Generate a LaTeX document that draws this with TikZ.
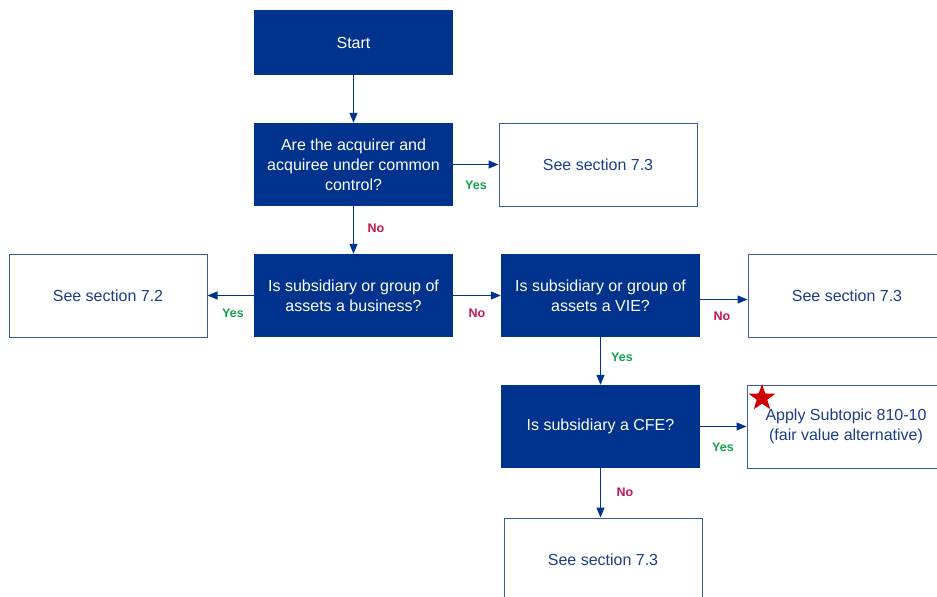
\documentclass[tikz,border=0pt]{standalone}
\usepackage{fontspec}
\setmainfont{Liberation Sans}
\usetikzlibrary{
  arrows.meta,
  shapes.geometric
}
\definecolor{FNavy}{HTML}{00338D}
\definecolor{FEdge}{HTML}{3A5CA6}
\definecolor{FInk}{HTML}{1B3D8F}
\definecolor{FYes}{HTML}{12A24B}
\definecolor{FNo}{HTML}{C8154A}
\definecolor{FStar}{HTML}{D00000}
\tikzset{
  fqbox/.style={
    fill=FNavy,
    text=white,
    align=center,
    minimum width=199pt,
    minimum height=83pt,
    inner sep=4pt,
    font=\fontsize{16}{20}\selectfont
  },
  fsbox/.style={
    draw=FEdge,
    line width=1pt,
    fill=white,
    text=FInk,
    align=center,
    minimum width=198pt,
    minimum height=83pt,
    inner sep=4pt,
    font=\fontsize{16}{20}\selectfont
  },
  farrow/.style={
    -{Triangle[length=10pt,width=8pt]},
    line width=1.2pt,
    color=FNavy
  },
  fyes/.style={
    font=\bfseries\fontsize{12.5}{14}\selectfont,
    text=FYes
  },
  fno/.style={
    font=\bfseries\fontsize{12.5}{14}\selectfont,
    text=FNo
  }
}

\begin{document}
\begin{tikzpicture}[x=1pt,y=-1pt]
  \useasboundingbox (0,0) rectangle (937,597);
  \clip (0,0) rectangle (937,597);

  \node[fqbox,minimum height=65pt] (start) at (353.5,42.5) {Start};
  \node[fqbox] (common) at (353.5,164.5)
    {Are the acquirer and\\acquiree under common\\control?};
  \node[fsbox] (sec73a) at (598,164.5) {See section 7.3};

  \node[fsbox] (sec72) at (108,295.5) {See section 7.2};
  \node[fqbox] (business) at (353.5,295.5)
    {Is subsidiary or group of\\assets a business?};
  \node[fqbox] (vie) at (600.5,295.5)
    {Is subsidiary or group of\\assets a VIE?};
  \node[fsbox] (sec73b) at (847,295.5) {See section 7.3};

  \node[fqbox] (cfe) at (600.5,426.5) {Is subsidiary a CFE?};
  \node[fsbox] (apply) at (846,426.5)
    {Apply Subtopic 810-10\\(fair value alternative)};
  \node[star,star points=5,star point ratio=2.5,fill=FStar,
    minimum size=28pt,inner sep=0pt] (flag) at (762,398) {};

  \node[fsbox] (sec73c) at (603,559.5) {See section 7.3};

  \draw[farrow] (start) -- (common);
  \draw[farrow] (common) -- (sec73a);
  \draw[farrow] (common) -- (business);
  \draw[farrow] (business) -- (sec72);
  \draw[farrow] (business) -- (vie);
  \draw[farrow] (vie.east) ++(0,4) coordinate (vieout) -- (vieout -| sec73b.west);
  \draw[farrow] (vie) -- (cfe);
  \draw[farrow] (cfe) -- (cfe -| apply.west);
  \draw[farrow] (cfe.south) -- (cfe.south |- sec73c.north);

  \node[fyes] at (476,185) {Yes};
  \node[fno] at (376,228) {No};
  \node[fyes] at (233,313) {Yes};
  \node[fno] at (477,313) {No};
  \node[fno] at (722,316) {No};
  \node[fyes] at (622,357) {Yes};
  \node[fyes] at (723,447) {Yes};
  \node[fno] at (625,492) {No};
\end{tikzpicture}
\end{document}
